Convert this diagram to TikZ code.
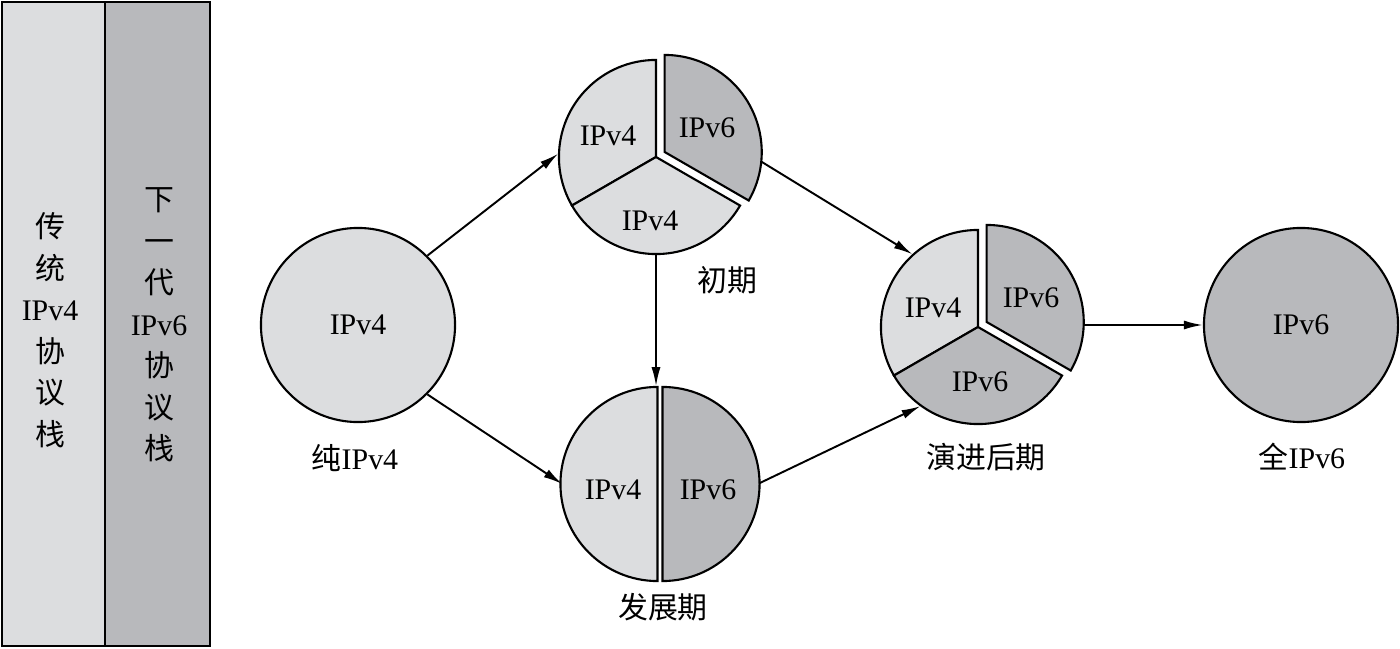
\documentclass[tikz,border=0pt]{standalone}
\usepackage{fontspec}
\setmainfont{Liberation Serif}
\newfontfamily\cjk{Noto Sans CJK SC}
\usetikzlibrary{arrows.meta,calc}
\definecolor{lite}{RGB}{220,221,223}
\definecolor{dark}{RGB}{184,185,188}

\begin{document}
\begin{tikzpicture}[x=0.01cm, y=0.01cm,
    every node/.style={font=\fontsize{8.5}{11.8}\selectfont},
    ring/.style={circle, minimum size=1.94cm, inner sep=0pt},
    piece/.style={draw=black, line width=0.6pt},
    flow/.style={-{Latex[length=0.19cm,width=0.09cm]}, line width=0.55pt}]
    \useasboundingbox (0,0) rectangle (1400,648);

    % 协议栈
    \fill[lite] (2,2) rectangle (105,646);
    \fill[dark] (105,2) rectangle (210,646);
    \draw[line width=0.6pt] (2,2) rectangle (210,646) (105,2) -- (105,646);
    \node[align=center] (oldStack) at (50,318) {{\cjk 传}\\{\cjk 统}\\IPv4\\{\cjk 协}\\{\cjk 议}\\{\cjk 栈}};
    \node[align=center] (newStack) at (159,323) {{\cjk 下}\\{\cjk 一}\\{\cjk 代}\\IPv6\\{\cjk 协}\\{\cjk 议}\\{\cjk 栈}};

    % 阶段
    \node[ring, piece, fill=lite] (pure) at (358,323) {IPv4};
    \node[ring] (early) at (656,491) {};
    \node[ring] (develop) at (660,164) {};
    \node[ring] (late) at (978,321) {};
    \node[ring, piece, fill=dark] (full) at (1301,323) {IPv6};

    % 箭头
    \draw[flow] (pure.45) -- (early.178);
    \draw[flow] (pure.-45) -- (develop.180);
    \draw[flow] (early.south) -- (early.south |- develop.north);
    \draw[flow] (early.east) -- (late.132);
    \draw[flow] (develop.east) -- (late.234);
    \draw[flow] (full.west -| late.east) -- (full.west);

    % 初期
    \filldraw[piece, fill=lite] (early.center) -- ++(90:0.97cm) arc[start angle=90, end angle=210, radius=0.97cm] -- cycle;
    \filldraw[piece, fill=lite] (early.center) -- ++(210:0.97cm) arc[start angle=210, end angle=330, radius=0.97cm] -- cycle;
    \filldraw[piece, fill=dark] ($(early.center)+(30:0.1cm)$) -- ++(-30:0.97cm) arc[start angle=-30, end angle=90, radius=0.97cm] -- cycle;

    % 发展期
    \filldraw[piece, fill=lite] ($(develop.center)+(-0.025cm,0)$) -- ++(90:0.97cm) arc[start angle=90, end angle=270, radius=0.97cm] -- cycle;
    \filldraw[piece, fill=dark] ($(develop.center)+(0.025cm,0)$) -- ++(-90:0.97cm) arc[start angle=-90, end angle=90, radius=0.97cm] -- cycle;

    % 演进后期
    \filldraw[piece, fill=lite] (late.center) -- ++(90:0.97cm) arc[start angle=90, end angle=210, radius=0.97cm] -- cycle;
    \filldraw[piece, fill=dark] (late.center) -- ++(210:0.97cm) arc[start angle=210, end angle=330, radius=0.97cm] -- cycle;
    \filldraw[piece, fill=dark] ($(late.center)+(30:0.1cm)$) -- ++(-30:0.97cm) arc[start angle=-30, end angle=90, radius=0.97cm] -- cycle;

    % 扇区文字
    \node (earlyA) at (608,512) {IPv4};
    \node (earlyB) at (707,520) {IPv6};
    \node (earlyC) at (650,427) {IPv4};
    \node (developA) at (613,158) {IPv4};
    \node (developB) at (708,158) {IPv6};
    \node (lateA) at (933,340) {IPv4};
    \node (lateB) at (1031,350) {IPv6};
    \node (lateC) at (980,266) {IPv6};

    % 标题
    \node (pureLbl) at (355,190) {{\cjk 纯}IPv4};
    \node (earlyLbl) at (727,368) {\cjk 初期};
    \node (developLbl) at (663,41) {\cjk 发展期};
    \node (lateLbl) at (986,191) {\cjk 演进后期};
    \node (fullLbl) at (1302,191) {{\cjk 全}IPv6};
\end{tikzpicture}
\end{document}
